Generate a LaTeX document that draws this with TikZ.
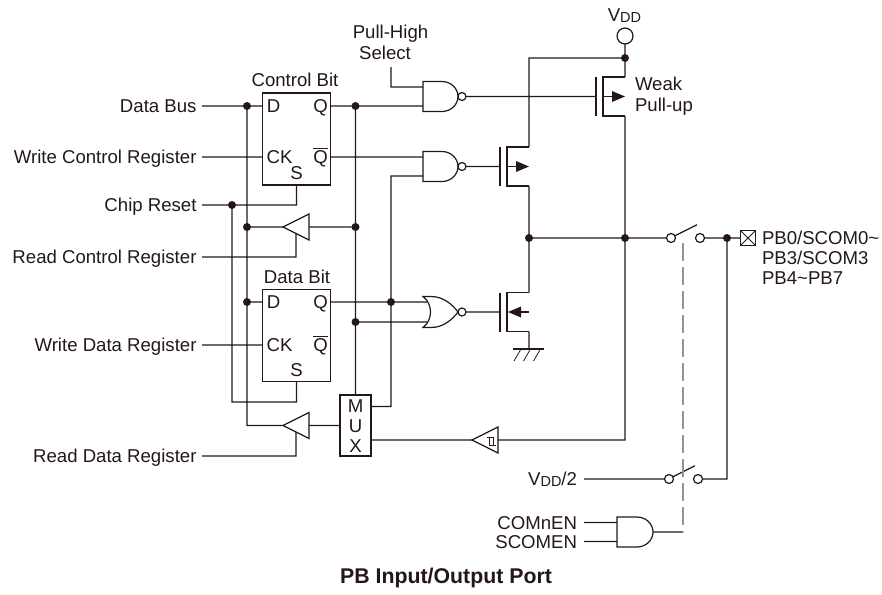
\documentclass[tikz,border=0pt]{standalone}
\usepackage{fontspec,amsmath}
\setmainfont{Liberation Sans}
\usetikzlibrary{calc}
\definecolor{ink}{HTML}{231815}
\tikzset{
	txt/.style={font=\fontsize{18.6}{22}\selectfont, text height=13.2, text depth=0, inner sep=0, outer sep=0},
	lbl/.style={txt, anchor=east, outer sep=5.5},
	ffbox/.style={draw, minimum width=68, minimum height=92, inner sep=0, outer sep=0},
	pin/.style={draw, circle, fill=white, minimum size=9, inner sep=0, outer sep=0},
	nandgate/.pic={
		\draw[fill=white] (0,-15) -- (19,-15) .. controls (28,-15) and (35,-8) .. (35,0) .. controls (35,8) and (28,15) .. (19,15) -- (0,15) -- cycle;
		\draw[fill=white] (39,0) circle (4);
		\coordinate (-a) at (0,-9.5); \coordinate (-b) at (0,9.5); \coordinate (-o) at (43,0);
	},
	andgate/.pic={
		\draw[fill=white] (0,-15) -- (20,-15) .. controls (29,-15) and (36,-8) .. (36,0) .. controls (36,8) and (29,15) .. (20,15) -- (0,15) -- cycle;
		\coordinate (-a) at (0,-9.5); \coordinate (-b) at (0,9.5); \coordinate (-o) at (36,0);
	},
	norgate/.pic={
		\draw[fill=white] (0,-15.5) -- (8,-15.5) .. controls (20,-15.5) and (29,-8) .. (35,0) .. controls (29,8) and (20,15.5) .. (8,15.5) -- (0,15.5) .. controls (10,8) and (10,-8) .. (0,-15.5) -- cycle;
		\draw[fill=white] (39,0) circle (4);
		\coordinate (-a) at (4,-10); \coordinate (-b) at (4,10); \coordinate (-o) at (43,0);
	},
	buffgate/.pic={
		\draw[fill=white] (0,0) -- (26,-13) -- (26,13) -- cycle;
		\coordinate (-o) at (0,0); \coordinate (-i) at (26,0); \coordinate (-e) at (13,6.5);
	},
	pmos/.pic={
		\draw (0,-19.5) -- (0,19.5) (29,-19.5) -- (7,-19.5) -- (7,19.5) -- (29,19.5) (7,0) -- (22,0);
		\fill (29,0) -- (16,-5.5) -- (16,5.5) -- cycle;
		\coordinate (-g) at (0,0); \coordinate (-t) at (29,-19.5); \coordinate (-b) at (29,19.5);
	},
	nmos/.pic={
		\draw (0,-19.5) -- (0,19.5) (29,-19.5) -- (7,-19.5) -- (7,19.5) -- (29,19.5) (15,0) -- (29,0);
		\fill (8,0) -- (21,-5.5) -- (21,5.5) -- cycle;
		\coordinate (-g) at (0,0); \coordinate (-t) at (29,-19.5); \coordinate (-b) at (29,19.5);
	}
}
\begin{document}
\begin{tikzpicture}[x=1pt, y=-1pt, color=ink, line width=1.2pt]
	\useasboundingbox (0,0) rectangle (882,594);
	\path
	(247,106) coordinate (jbus)
	(247,227) coordinate (jrc)
	(247,302) coordinate (jd)
	(232,205) coordinate (jrst)
	(296.5,402) coordinate (jset)
	(355.5,106) coordinate (jq)
	(355.5,227) coordinate (jqr)
	(355.5,322) coordinate (jdq)
	(391,302) coordinate (jnq)
	(391,67) coordinate (jsel)
	(391,406.5) coordinate (jmux)
	(625,58) coordinate (jvdd)
	(529,238) coordinate (jout)
	(625,238) coordinate (jmid)
	(727,238) coordinate (jpad)
	(529,349) coordinate (gnd)
	(683,243) coordinate (jarm)
	(683,532) coordinate (jctl);
	% boxes and gates
	\node[ffbox] (ctrl) at (296.5,139) {};
	\node[ffbox] (data) at (296.5,335.5) {};
	\node[draw, minimum width=31, minimum height=61, inner sep=0, outer sep=0] (mux) at (355.5,425.5) {};
	\pic (nandP) at (423,96.5) {nandgate};
	\pic (nandC) at (423,166.5) {nandgate};
	\pic (norN) at (423,312) {norgate};
	\pic (andE) at (617,532) {andgate};
	\pic (buffC) at (283,227) {buffgate};
	\pic (buffD) at (283,425.5) {buffgate};
	\pic (schm) at (472,440) {buffgate};
	\pic (mosW) at (596,96.5) {pmos};
	\pic (mosP) at (500,166.5) {pmos};
	\pic (mosN) at (500,312) {nmos};
	\draw[line width=.8pt] (486.5,437) -- (493.5,437) -- (493.5,445) (489.5,437) -- (489.5,445) -- (496,445);
	\node[pin, minimum size=16] (vddpin) at (625,36) {};
	\node[pin] (swA) at (671,238) {};
	\node[pin] (swB) at (700,238) {};
	\node[pin] (swC) at (669,479) {};
	\node[pin] (swD) at (698,479) {};
	\node[draw, minimum size=15, inner sep=0, outer sep=0] (pad) at (748,238) {};
	\draw[line width=.8pt] (pad.north west) -- (pad.south east) (pad.north east) -- (pad.south west);
	% texts
	\foreach \n/\t/\y in {bus/Data Bus/106,wcr/Write Control Register/157,rst/Chip Reset/205,rcr/Read Control Register/257,wdr/Write Data Register/345,rdr/Read Data Register/456}
		\node[lbl] (\n) at (202,\y) {\t};
	\foreach \n/\c in {ctrl/64,data/55.5} {
		\node[txt] (\n-d) at ($(\n.north west)+(11,12.5)$) {D};
		\node[txt] (\n-q) at ($(\n.north west)+(58,12.5)$) {Q};
		\node[txt] (\n-ck) at ($(\n.north west)+(17,\c)$) {CK};
		\node[txt] (\n-nq) at ($(\n.north west)+(58,\c)$) {$\overline{\hbox{Q}}$};
		\node[txt] (\n-s) at ($(\n.south west)+(34,-12)$) {S};
	}
	\foreach \n/\t/\y in {mM/M/406,mU/U/426,mX/X/446}
		\node[txt] (\n) at (355.5,\y) {\t};
	\node[txt] (ctrlname) at (295,80) {Control Bit};
	\node[txt] (dataname) at (297,277) {Data Bit};
	\node[txt] (pullname) at (390.5,32) {Pull-High};
	\node[txt] (sel) at (385,53) {Select};
	\node[txt] (vddname) at (624.5,15) {V\raisebox{-1pt}{\fontsize{14.5}{16}\selectfont DD}};
	\node[txt, anchor=west] (weak) at (635,84) {Weak};
	\node[txt, anchor=west] (pullup) at (635,105) {Pull-up};
	\node[txt, anchor=west] (pbA) at (762,238) {PB0/SCOM0\textasciitilde};
	\node[txt, anchor=west] (pbB) at (762,258) {PB3/SCOM3};
	\node[txt, anchor=west] (pbC) at (762,278) {PB4\textasciitilde PB7};
	\node[lbl, outer sep=7] (vddhalf) at (584,479) {V\raisebox{-1pt}{\fontsize{14.5}{16}\selectfont DD}/2};
	\node[lbl, outer sep=7] (comen) at (584,522.5) {COMnEN};
	\node[lbl, outer sep=7] (scomen) at (584,541.5) {SCOMEN};
	\node[txt, font=\fontsize{21.3}{24}\selectfont\bfseries] (title) at (446,577) {PB Input/Output Port};
	% wires
	\draw
	(bus.east) -- (bus.east -| ctrl.west)
	(wcr.east) -- (wcr.east -| ctrl.west)
	(wdr.east) -- (wdr.east -| data.west)
	(rst.east) -| (ctrl.south)
	(rcr.east) -| (buffC-e)
	(rdr.east) -| (buffD-e)
	(jbus) |- (buffD-o)
	(jrc) -- (buffC-o)
	(jd) -- (jd -| data.west)
	(jrst) |- (jset) -- (data.south)
	(buffC-i) -- (jqr)
	(buffD-i) -- (buffD-i -| mux.west)
	(jq) -- (mux.north)
	(ctrl.east |- nandP-b) -- (nandP-b)
	(ctrl.east |- nandC-a) -- (nandC-a)
	(data.east |- norN-a) -- (norN-a)
	(jdq) -- (norN-b)
	(jsel) |- (nandP-a)
	(nandC-b) -| (jmux) -- (jmux -| mux.east)
	(nandP-o) -- (mosW-g)
	(nandC-o) -- (mosP-g)
	(norN-o) -- (mosN-g)
	(vddpin) -- (jvdd) -- (mosW-t)
	(jvdd) -| (mosP-t)
	(mosP-b) -- (mosN-t)
	(mosN-b) -- (gnd)
	(mosW-b) |- (schm-i)
	(mux.east |- schm-o) -- (schm-o)
	(jout) -- (swA)
	(swB) -- (jpad) -- (pad)
	(swA.30) -- ++(22,-11)
	(vddhalf.east) -- (swC)
	(swD) -| (jpad)
	(swC.30) -- ++(22,-11)
	(comen.east) -- (andE-a)
	(scomen.east) -- (andE-b)
	(andE-o) -- (jctl);
	\draw[gray!85, dash pattern=on 18pt off 6pt] (jarm) -- (jctl);
	\draw ($(gnd)+(-16,0)$) -- +(31,0);
	\foreach \x in {-8,1.5,11.5} \draw[line width=.8pt] ($(gnd)+(\x,0)$) -- +(-7,12);
	\foreach \j in {jbus,jrc,jd,jrst,jq,jqr,jdq,jnq,jvdd,jout,jmid,jpad} \fill (\j) circle (4);
\end{tikzpicture}
\end{document}
